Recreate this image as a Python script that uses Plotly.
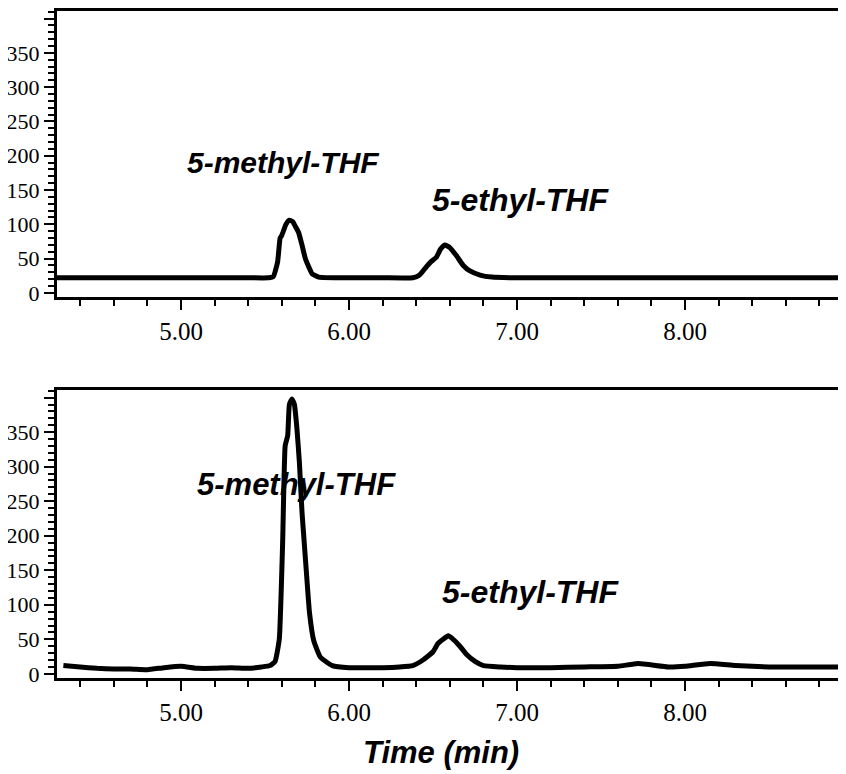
import plotly.graph_objects as go

# ---- data ----
top_time = [4.262, 4.5, 4.8, 5.1, 5.4, 5.52, 5.55, 5.575, 5.59, 5.60, 5.625, 5.645, 5.665,
            5.685, 5.70, 5.72, 5.74, 5.76, 5.78, 5.82, 6.0, 6.2, 6.38, 6.42, 6.46, 6.49,
            6.52, 6.545, 6.57, 6.60, 6.64, 6.68, 6.72, 6.78, 6.85, 7.0, 7.5, 8.0, 8.5, 9.1]
top_signal = [22, 22, 22, 22, 22, 22, 24, 45, 80, 84, 100, 106, 104,
              95, 88, 70, 50, 38, 28, 23, 22, 22, 22, 26, 38, 46,
              52, 64, 70, 66, 54, 40, 32, 26, 23, 22, 22, 22, 22, 22]

bot_time = [4.30, 4.4, 4.5, 4.6, 4.7, 4.8, 4.9, 5.0, 5.1, 5.2, 5.3, 5.4, 5.48, 5.53, 5.56,
            5.585, 5.605, 5.62, 5.635, 5.645, 5.66, 5.675, 5.69, 5.705, 5.72, 5.735, 5.75,
            5.765, 5.79, 5.83, 5.9, 6.0, 6.1, 6.2, 6.3, 6.38, 6.44, 6.50, 6.53, 6.56, 6.59,
            6.62, 6.66, 6.70, 6.75, 6.80, 6.9, 7.0, 7.2, 7.4, 7.6, 7.72, 7.9, 8.0, 8.15,
            8.3, 8.5, 8.7, 9.1]
bot_signal = [12, 10, 8, 7, 7, 6, 9, 11, 8, 8, 9, 8, 10, 12, 18,
              50, 190, 330, 345, 390, 398, 390, 355, 305, 235, 185, 135,
              88, 48, 24, 12, 9, 9, 9, 10, 12, 20, 32, 44, 50, 55,
              50, 40, 28, 18, 12, 10, 9, 9, 10, 11, 15, 10, 11, 15,
              12, 10, 10, 10]

y_tickvals = [0, 50, 100, 150, 200, 250, 300, 350, 400]
y_ticktext = ["0", "50", "100", "150", "200", "250", "300", "350", ""]
x_tickvals = [5, 6, 7, 8]
x_ticktext = ["5.00", "6.00", "7.00", "8.00"]

peak_labels = ["5-methyl-THF", "5-ethyl-THF"]
x_title = "Time (min)"

OFF = 8                 # page body margin (px)
W, H = 846 - OFF, 774 - OFF
X_RANGE = [4.262, 8.958]
Y_RANGE = [-6, 411]

fig = go.Figure()
fig.add_trace(go.Scatter(x=top_time, y=top_signal, mode="lines",
                         line=dict(color="black", width=5, shape="spline", smoothing=0.4),
                         xaxis="x", yaxis="y", showlegend=False, hoverinfo="skip"))
fig.add_trace(go.Scatter(x=bot_time, y=bot_signal, mode="lines",
                         line=dict(color="black", width=5, shape="spline", smoothing=0.4),
                         xaxis="x2", yaxis="y2", showlegend=False, hoverinfo="skip"))

x_tick_font = dict(family="Liberation Serif", size=25, color="black")
y_tick_font = dict(family="Liberation Serif", size=22, color="black")

def xaxis_cfg(anchor):
    return dict(range=X_RANGE, domain=[0, 1], anchor=anchor, showgrid=False, zeroline=False,
                showline=True, linecolor="black", linewidth=3, mirror=True,
                ticks="outside", ticklen=10, tickwidth=2, tickcolor="black",
                tickvals=x_tickvals, ticktext=x_ticktext, tickfont=x_tick_font,
                minor=dict(dtick=0.2, tick0=5, ticks="outside", ticklen=6, tickwidth=2,
                           tickcolor="black", showgrid=False),
                fixedrange=True, automargin=False)

def yaxis_cfg(anchor, domain):
    return dict(range=Y_RANGE, domain=domain, anchor=anchor, showgrid=False, zeroline=False,
                showline=True, linecolor="black", linewidth=3,
                ticks="outside", ticklen=10, tickwidth=2, tickcolor="black",
                tickvals=y_tickvals, ticktext=y_ticktext, tickfont=y_tick_font,
                minor=dict(dtick=10, tick0=0, ticks="outside", ticklen=6, tickwidth=2,
                           tickcolor="black", showgrid=False),
                ticklabelstandoff=0,
                fixedrange=True, automargin=False)

def dom(top_px, bot_px):
    return [1 - (bot_px - OFF) / H, 1 - (top_px - OFF) / H]

top_dom = dom(11, 297)
bot_dom = dom(390, 678)

def lab(s):
    return "<b><i>%s</i></b>" % s

annotations = [
    dict(x=5.61, y=190, xref="x", yref="y", text=lab(peak_labels[0]), showarrow=False,
         xanchor="center", yanchor="middle",
         font=dict(family="Liberation Sans", size=30, color="black")),
    dict(x=7.02, y=136, xref="x", yref="y", text=lab(peak_labels[1]), showarrow=False,
         xanchor="center", yanchor="middle",
         font=dict(family="Liberation Sans", size=32, color="black")),
    dict(x=5.69, y=274, xref="x2", yref="y2", text=lab(peak_labels[0]), showarrow=False,
         xanchor="center", yanchor="middle",
         font=dict(family="Liberation Sans", size=31, color="black")),
    dict(x=7.08, y=119, xref="x2", yref="y2", text=lab(peak_labels[1]), showarrow=False,
         xanchor="center", yanchor="middle",
         font=dict(family="Liberation Sans", size=32, color="black")),
    dict(x=6.55, y=1 - (752 - OFF) / H, xref="x2", yref="paper", text=lab(x_title),
         showarrow=False, xanchor="center", yanchor="middle",
         font=dict(family="Liberation Sans", size=31, color="black")),
]

fig.update_layout(
    width=W, height=H,
    margin=dict(l=57 - OFF, r=0, t=0, b=0),
    paper_bgcolor="white", plot_bgcolor="white",
    xaxis=xaxis_cfg("y"), yaxis=yaxis_cfg("x", top_dom),
    xaxis2=xaxis_cfg("y2"), yaxis2=yaxis_cfg("x2", bot_dom),
    annotations=annotations,
    showlegend=False,
)

fig.write_html("out.html")
